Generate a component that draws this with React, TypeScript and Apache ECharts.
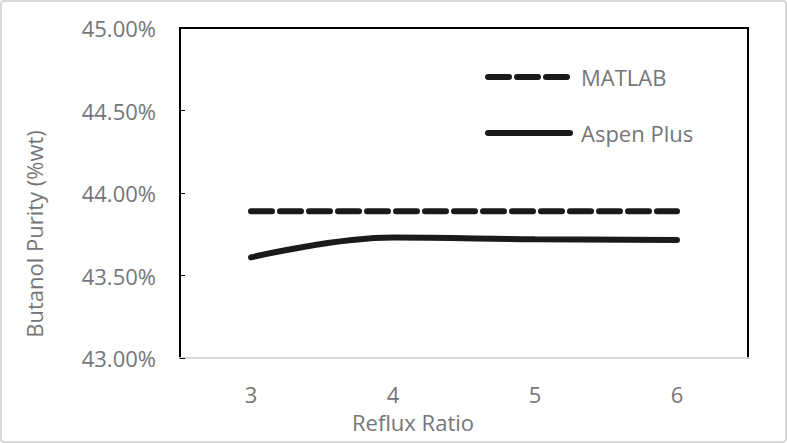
import React, { useEffect, useRef } from "react";
import * as echarts from "echarts";

const categories = ["3", "4", "5", "6"];
const matlab = [43.89, 43.89, 43.89, 43.89];
const aspenPlus = [43.61, 43.73, 43.72, 43.715];
const yTicks = { min: 43, max: 45, interval: 0.5 };

const FONT = "'Open Sans', sans-serif";
const GRAY = "#767676";

export default function App() {
  const ref = useRef<HTMLDivElement>(null);
  useEffect(() => {
    if (!ref.current) return;
    const chart = echarts.init(ref.current, undefined, { renderer: "svg" });
    chart.setOption({
      animation: false,
      backgroundColor: "#ffffff",
      textStyle: { fontFamily: FONT },
      grid: {
        left: 180,
        top: 28,
        right: 39,
        bottom: 85,
        show: true,
        borderColor: "#000",
        borderWidth: 2,
        backgroundColor: "transparent",
      },
      legend: {
        orient: "vertical",
        left: 485,
        top: 66,
        padding: 0,
        itemGap: 34,
        itemWidth: 82,
        itemHeight: 8,
        selectedMode: false,
        itemStyle: { opacity: 0 },
        lineStyle: { width: 6, cap: "round" },
        textStyle: { color: GRAY, fontSize: 22, fontFamily: FONT, padding: [0, 0, 0, 6] },
        data: ["MATLAB", "Aspen Plus"],
      },
      xAxis: {
        type: "category",
        data: categories,
        boundaryGap: true,
        name: "Reflux Ratio",
        nameLocation: "middle",
        nameGap: 53,
        nameTextStyle: { color: GRAY, fontSize: 22, fontFamily: FONT, padding: [0, 102, 0, 0] },
        axisLine: { lineStyle: { color: "#d9d9d9", width: 2 } },
        axisTick: { inside: true, length: 7, lineStyle: { color: "#d9d9d9", width: 1.5 } },
        axisLabel: { color: GRAY, fontSize: 22, margin: 25, fontFamily: FONT },
        splitLine: { show: false },
      },
      yAxis: {
        type: "value",
        min: yTicks.min,
        max: yTicks.max,
        interval: yTicks.interval,
        name: "Butanol Purity (%wt)",
        nameLocation: "middle",
        nameGap: 135,
        nameTextStyle: { color: GRAY, fontSize: 22, fontFamily: FONT, padding: [0, 82, 0, 0] },
        axisLine: { show: true, lineStyle: { color: "#000", width: 2 } },
        axisTick: { show: true, inside: true, length: 5, lineStyle: { color: "#000" } },
        axisLabel: {
          color: GRAY,
          fontSize: 22,
          margin: 24,
          fontFamily: FONT,
          formatter: (v: number) => v.toFixed(2) + "%",
        },
        splitLine: { show: false },
      },
      series: [
        {
          name: "MATLAB",
          type: "line",
          data: matlab,
          symbol: "none",
          lineStyle: { color: "#1a1a1a", width: 6, type: [21, 8], cap: "round" },
          itemStyle: { color: "#1a1a1a" },
        },
        {
          name: "Aspen Plus",
          type: "line",
          data: aspenPlus,
          symbol: "none",
          smooth: 0.4,
          lineStyle: { color: "#1a1a1a", width: 6, cap: "round" },
          itemStyle: { color: "#1a1a1a" },
        },
      ],
      graphic: [
        {
          type: "rect",
          shape: { x: 1, y: 1, width: 785, height: 441, r: 3 },
          style: { fill: "none", stroke: "#d9d9d9", lineWidth: 2 },
          silent: true,
        },
      ],
    });
    return () => chart.dispose();
  }, []);
  return (
    <div
      ref={ref}
      style={{ position: "absolute", left: 0, top: 0, width: 787, height: 443 }}
    />
  );
}
